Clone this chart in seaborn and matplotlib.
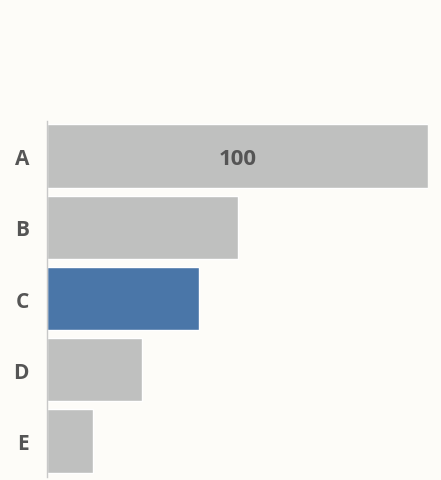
import matplotlib
matplotlib.use('Agg')
import matplotlib.pyplot as plt
import seaborn as sns
import pandas as pd

# 数据
categories = ['A', 'B', 'C', 'D', 'E']
values = [100, 50, 40, 25, 12]
highlight = 'C'

bg = '#fdfcf8'
gray = '#bfc0bf'
blue = '#4a76a8'
text_color = '#555555'

sns.set_style('white')
plt.rcParams['font.family'] = ['Open Sans', 'DejaVu Sans']

df = pd.DataFrame({'cat': categories, 'val': values})
colors = [blue if c == highlight else gray for c in categories]

fig = plt.figure(figsize=(4.41, 4.81), dpi=100, facecolor=bg)
ax = fig.add_axes([0.1066, 0.0071, 0.8639, 0.7403])
ax.set_facecolor(bg)

sns.barplot(data=df, x='val', y='cat', hue='cat', palette=colors,
            legend=False, width=0.89, ax=ax, saturation=1)

# 只在最长的柱子上标数值
ax.text(values[0] / 2, 0.04, str(values[0]), ha='center', va='center',
        fontsize=16, fontweight='bold', color=text_color)

ax.set_xlim(0, 100)
ax.set_ylim(4.5, -0.5)
ax.set_xlabel('')
ax.set_ylabel('')
ax.set_xticks([])
for s in ['top', 'right', 'bottom']:
    ax.spines[s].set_visible(False)
ax.spines['left'].set_color('#c8c8c8')
ax.spines['left'].set_linewidth(1)
ax.tick_params(axis='y', length=0, pad=13)
for lbl in ax.get_yticklabels():
    lbl.set_fontsize(15)
    lbl.set_fontweight('bold')
    lbl.set_color(text_color)

fig.savefig('out.png', dpi=100, facecolor=bg)
